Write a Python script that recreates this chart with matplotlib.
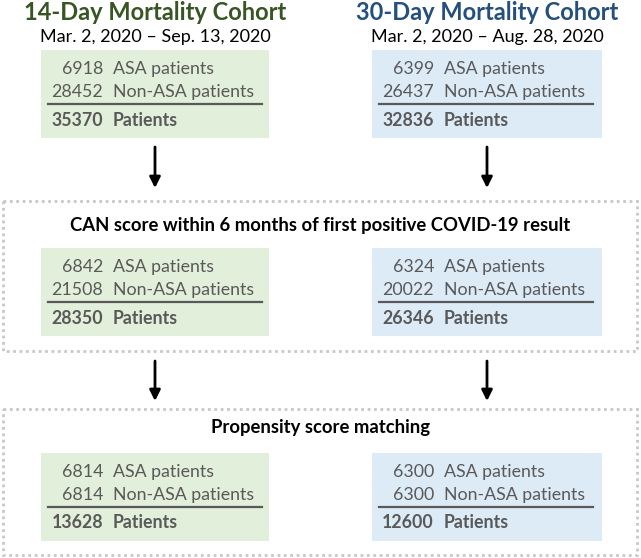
import matplotlib
matplotlib.use('Agg')
import matplotlib.pyplot as plt
from matplotlib.patches import Rectangle

plt.rcParams['font.family'] = ['Lato', 'DejaVu Sans']

# cohort data
cohorts = ['14-Day Mortality Cohort', '30-Day Mortality Cohort']
date_ranges = ['Mar. 2, 2020 \u2013 Sep. 13, 2020', 'Mar. 2, 2020 \u2013 Aug. 28, 2020']
stage_titles = ['', 'CAN score within 6 months of first positive COVID-19 result',
                'Propensity score matching']
asa_14 = [6918, 6842, 6814]
non_asa_14 = [28452, 21508, 6814]
total_14 = [35370, 28350, 13628]
asa_30 = [6399, 6324, 6300]
non_asa_30 = [26437, 20022, 6300]
total_30 = [32836, 26346, 12600]

title_colors = ['#375623', '#24507e']
box_colors = ['#e2efda', '#ddebf7']
gray = '#595959'

W, H = 641, 558
fig = plt.figure(figsize=(W / 100, H / 100), dpi=100)
ax = fig.add_axes([0, 0, 1, 1])
ax.set_xlim(0, W)
ax.set_ylim(H, 0)
ax.axis('off')

box_left = [41, 372]
box_w = [228, 230]
box_top = [50, 248, 453]
box_h = 88
dotted = [(201, 351), (409, 555)]
arrows = [(147, 188), (361, 401)]

cols = [(asa_14, non_asa_14, total_14), (asa_30, non_asa_30, total_30)]
fs = 12.8

for c in range(2):
    left = box_left[c]
    cx = left + box_w[c] / 2
    ax.text(cx, 13, cohorts[c], ha='center', va='center', fontsize=17,
            fontweight='bold', color=title_colors[c])
    ax.text(cx, 37, date_ranges[c], ha='center', va='center', fontsize=13,
            color='black')
    asa, non, tot = cols[c]
    for s in range(3):
        top = box_top[s]
        ax.add_patch(Rectangle((left, top), box_w[c], box_h, facecolor=box_colors[c],
                               edgecolor='none', zorder=1))
        nx = left + 62
        lx = left + 72
        ax.text(nx, top + 19, str(asa[s]), ha='right', va='center', fontsize=fs, color=gray, zorder=3)
        ax.text(lx, top + 19, 'ASA patients', ha='left', va='center', fontsize=fs, color=gray, zorder=3)
        ax.text(nx, top + 42, str(non[s]), ha='right', va='center', fontsize=fs, color=gray, zorder=3)
        ax.text(lx, top + 42, 'Non-ASA patients', ha='left', va='center', fontsize=fs, color=gray, zorder=3)
        ax.plot([left + 7, left + 221], [top + 54, top + 54], color=gray, lw=1.6, zorder=3)
        ax.text(nx, top + 70, str(tot[s]), ha='right', va='center', fontsize=fs,
                fontweight='bold', color=gray, zorder=3)
        ax.text(lx, top + 70, 'Patients', ha='left', va='center', fontsize=fs,
                fontweight='bold', color=gray, zorder=3)
    for y0, y1 in arrows:
        ax.annotate('', xy=(cx, y1), xytext=(cx, y0),
                    arrowprops=dict(arrowstyle='-|>', color='black', lw=2,
                                    mutation_scale=16, shrinkA=0, shrinkB=0))

# dotted stage frames
for i, (y0, y1) in enumerate(dotted):
    ax.add_patch(Rectangle((3, y0), 634, y1 - y0, fill=False, edgecolor='#c8c8c8',
                           lw=2, linestyle=(0, (1, 1.3)), zorder=0))
    ax.text(W / 2, y0 + 24 if i == 0 else y0 + 19, stage_titles[i + 1], ha='center',
            va='center', fontsize=13.3, fontweight='bold', color='black')

fig.savefig('out.png', dpi=100)
